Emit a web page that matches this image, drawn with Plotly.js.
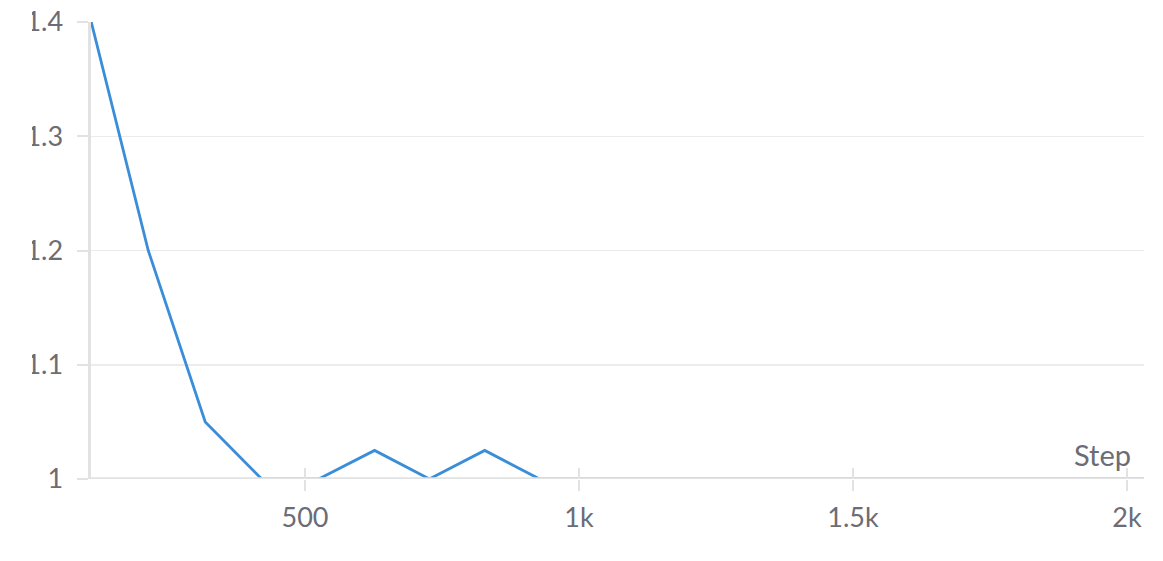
<!DOCTYPE html>
<html>
<head>
<meta charset="utf-8">
<script src="https://cdn.plot.ly/plotly-3.0.1.min.js"></script>
<style>
  html, body { margin: 0; padding: 0; background: #fff; }
  #wrap { position: relative; width: 1163px; height: 561px; overflow: hidden; }
  #chart { width: 1163px; height: 561px; }
  #clip { position: absolute; left: 0; top: 0; width: 32px; height: 561px; background: #fff; }
</style>
</head>
<body>
<div id="wrap">
  <div id="chart"></div>
  <div id="clip"></div>
</div>
<script>
// run values (hidden tail sits on the axis line)
const steps = [110, 214, 318, 421, 525, 627, 727, 828, 928, 1031, 1134, 1237, 1340, 1443, 1546, 1649, 1752, 1855, 1958, 2031];
const values = [1.4, 1.2, 1.05, 1.0, 1.0, 1.025, 1.0, 1.025, 1.0, 1.0, 1.0, 1.0, 1.0, 1.0, 1.0, 1.0, 1.0, 1.0, 1.0, 1.0];

const xTicks = [500, 1000, 1500, 2000];
const xTickText = ["500", "1k", "1.5k", "2k"];
const yTicks = [1, 1.1, 1.2, 1.3, 1.4];
const yTickText = ["1", "1.1", "1.2", "1.3", "1.4"];

const grey = "#6b6c75";
const lineGrey = "#e2e2e2";
const fontFam = "Lato, 'Open Sans', sans-serif";

const data = [
  { x: steps, y: values, mode: "lines", line: { color: "#3a8ed8", width: 2.8 }, hoverinfo: "x+y" },
  // dummy trace so the second x axis (inner tick marks) gets drawn
  { x: steps, y: values, xaxis: "x2", mode: "lines", line: { width: 0 }, opacity: 0, hoverinfo: "skip", showlegend: false }
];

const layout = {
  width: 1163,
  height: 561,
  margin: { l: 91, r: 19, t: 22, b: 82 },
  paper_bgcolor: "#fff",
  plot_bgcolor: "#fff",
  showlegend: false,
  font: { family: fontFam, size: 27, color: grey },
  xaxis: {
    range: [109.5, 2031],
    tickvals: xTicks,
    ticktext: xTickText,
    ticks: "outside",
    ticklen: 11,
    tickwidth: 2,
    tickcolor: lineGrey,
    showgrid: false,
    zeroline: false,
    showline: false,
    ticklabelstandoff: 4
  },
  xaxis2: {
    overlaying: "x",
    matches: "x",
    anchor: "y",
    side: "bottom",
    tickvals: xTicks,
    ticks: "inside",
    ticklen: 11,
    tickwidth: 2,
    tickcolor: lineGrey,
    showticklabels: false,
    showgrid: false,
    zeroline: false,
    showline: false
  },
  yaxis: {
    range: [1, 1.4],
    tickvals: yTicks,
    ticktext: yTickText,
    ticks: "outside",
    ticklen: 11,
    tickwidth: 2,
    tickcolor: lineGrey,
    showgrid: true,
    gridcolor: "#ececec",
    gridwidth: 1.5,
    zeroline: false,
    showline: true,
    linecolor: lineGrey,
    linewidth: 3.5,
    ticklabelstandoff: 8
  },
  // x axis line drawn on top of the trace, like the original panel
  shapes: [{
    type: "line",
    xref: "paper", yref: "y",
    x0: -0.003, x1: 1, y0: 1, y1: 1,
    line: { color: lineGrey, width: 3.5 },
    layer: "above"
  }],
  annotations: [{
    text: "Step",
    xref: "paper", yref: "paper",
    x: 1, y: 0,
    xanchor: "right", yanchor: "bottom",
    xshift: -11, yshift: 5,
    showarrow: false,
    font: { family: fontFam, size: 29, color: grey }
  }]
};

Plotly.newPlot("chart", data, layout, { displayModeBar: false, staticPlot: true });
</script>
</body>
</html>
